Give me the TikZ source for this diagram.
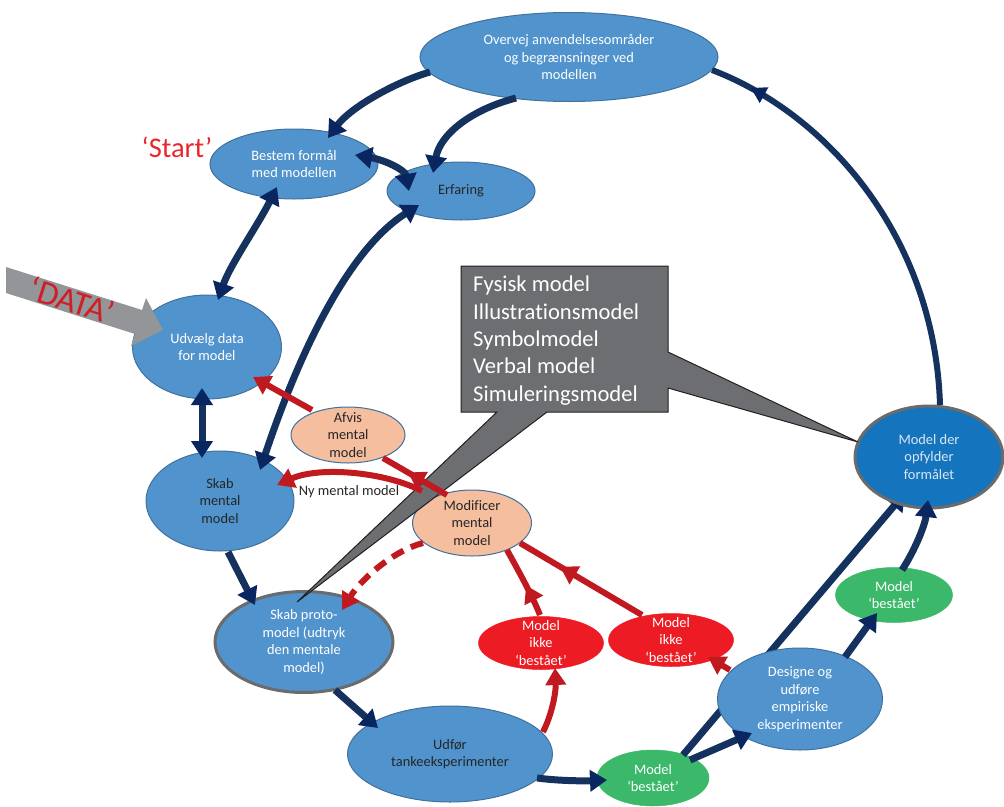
\documentclass[tikz,border=0pt]{standalone}
\usepackage{fontspec}
\setmainfont{Carlito}[Ligatures=NoCommon]
\usetikzlibrary{shapes.geometric,arrows.meta,calc,decorations.markings}
\definecolor{nodeblue}{HTML}{5093CD}
\definecolor{bordblue}{HTML}{41719C}
\definecolor{mdblue}{HTML}{1474BD}
\definecolor{grayb}{HTML}{6B6B6B}
\definecolor{orangef}{HTML}{F4BE9F}
\definecolor{redf}{HTML}{ED1C24}
\definecolor{greenf}{HTML}{3BB86A}
\definecolor{navy}{HTML}{15325F}
\definecolor{navyhead}{HTML}{0A2660}
\definecolor{redl}{HTML}{C0191F}
\definecolor{calloutgray}{HTML}{6D6E71}
\definecolor{calloutborder}{HTML}{231F20}
\definecolor{dgray}{HTML}{939598}
\definecolor{startred}{HTML}{E8262C}
\definecolor{datared}{HTML}{CF1F25}
\definecolor{textdark}{HTML}{262626}
\definecolor{mdtext}{HTML}{DCE6F2}
\newcommand\myfnt{\fontsize{14.4}{17.6}\selectfont}
\newcommand\calfnt{\fontsize{22.6}{27.3}\selectfont}
\begin{document}
\begin{tikzpicture}[x=1pt,y=-1pt,
  bl/.style={ellipse, draw=bordblue, line width=1pt, fill=nodeblue, inner sep=0pt},
  orn/.style={ellipse, draw=bordblue, line width=1pt, fill=orangef, inner sep=0pt},
  rdn/.style={ellipse, draw=redf, line width=0.5pt, fill=redf, inner sep=0pt},
  gn/.style={ellipse, draw=greenf, line width=0.5pt, fill=greenf, inner sep=0pt},
  wt/.style={text=white, font=\myfnt, align=center, inner sep=0pt},
  dt/.style={text=textdark, font=\myfnt, align=center, inner sep=0pt},
  nvl/.style={draw=navy, line width=7pt},
  nv/.style={nvl, -{Triangle[length=17pt,width=21pt,color=navyhead]}},
  nvb/.style={nvl, {Triangle[length=17pt,width=21pt,color=navyhead]}-{Triangle[length=17pt,width=21pt,color=navyhead]}},
  rdl/.style={draw=redl, line width=6pt},
  rda/.style={rdl, -{Triangle[length=17pt,width=20pt,color=redl]}},
  midnv/.style={postaction={decorate}, decoration={markings, mark=at position #1 with {\arrow{Triangle[length=15pt,width=17pt,color=navyhead]}}}},
  midrd/.style={postaction={decorate}, decoration={markings, mark=at position #1 with {\arrow{Triangle[length=17pt,width=20pt,color=redl]}}}}
]
\useasboundingbox (0,0) rectangle (1004,806);

% nodes
\node[bl, minimum width=298, minimum height=89] (ov) at (569,57) {};
\node[wt] (ovt) at (ov) {Overvej anvendelsesområder\\og begrænsninger ved\\modellen};
\node[bl, minimum width=168, minimum height=70] (be) at (294,164) {};
\node[wt] (bet) at (be) {Bestem formål\\med modellen};
\node[bl, minimum width=148, minimum height=58] (er) at (461,191) {};
\node[dt] (ert) at (er) {Erfaring};
\node[bl, minimum width=149, minimum height=104] (ud) at (207,347) {};
\node[wt] (udt) at (ud) {Udvælg data\\for model};
\node[orn, minimum width=114, minimum height=56] (af) at (348,435) {};
\node[dt] (aft) at (af) {Afvis\\mental\\model};
\node[bl, minimum width=148, minimum height=100] (sm) at (220,501) {};
\node[dt] (smt) at (sm) {Skab\\mental\\model};
\node[orn, minimum width=119, minimum height=66] (mo) at (472,523) {};
\node[dt] (mot) at (mo) {Modificer\\mental\\model};
\node[bl, draw=grayb, line width=3pt, minimum width=178, minimum height=101] (sp) at (304,642) {};
\node[wt] (spt) at (sp) {Skab proto-\\model (udtryk\\den mentale\\model)};
\node[rdn, minimum width=125, minimum height=53] (r1) at (541,643) {};
\node[wt] (r1t) at (r1) {Model\\ikke\\‘bestået’};
\node[rdn, minimum width=125, minimum height=53] (r2) at (671,640) {};
\node[wt] (r2t) at (r2) {Model\\ikke\\‘bestået’};
\node[bl, minimum width=205, minimum height=96] (uf) at (450,754) {};
\node[dt] (uft) at (uf) {Udfør\\tankeeksperimenter};
\node[gn, minimum width=112, minimum height=56] (gb) at (653,778) {};
\node[wt] (gbt) at (gb) {Model\\‘bestået’};
\node[gn, minimum width=117, minimum height=55] (gr) at (894,595) {};
\node[wt] (grt) at (gr) {Model\\‘bestået’};

% gb -> md line lies under "Designe"
\coordinate (mdc) at (929,457);
\draw[nv] ($(gb)+(30,-23)$) -- ($(mdc)+(-24,36)$);

\node[bl, minimum width=165, minimum height=102] (de) at (800,699) {};
\node[wt] (det) at (de) {Designe og\\udføre\\empiriske\\eksperimenter};
\node[bl, fill=mdblue, draw=grayb, line width=3pt, minimum width=148, minimum height=102] (md) at (mdc) {};
\node[wt, text=mdtext] (mdt) at (md) {Model der\\opfylder\\formålet};

% callout
\path[draw=calloutborder, fill=calloutgray, line width=1pt, line join=miter]
  (461,266) -- (668,266) -- (668,352) -- (858,442) -- (668,388) -- (668,412)
  -- (547,412) -- (297,602) -- (497,412) -- (461,412) -- cycle;
\node[anchor=north west, text=white, font=\calfnt, align=left, inner sep=0pt] (cl) at (473,276)
  {Fysisk model\\Illustrationsmodel\\Symbolmodel\\Verbal model\\Simuleringsmodel};

% navy connectors
\draw[nv] ($(ov)+(-139,15)$) .. controls (395,82) and (350,108) .. ($(be)+(34,-26)$);
\draw[nv] ($(ov)+(-53,41)$) .. controls (470,110) and (440,135) .. ($(er)+(-28,-18)$);
\draw[nvb] ($(be)+(61,-9)$) .. controls (385,160) and (405,170) .. ($(er)+(-52,0)$);
\draw[nvb] ($(be)+(-17,23)$) .. controls (258,225) and (230,265) .. ($(ud)+(11,-47)$);
\draw[nvb] ($(ud)+(-5,41)$) -- ($(sm)+(-18,-43)$);
\draw[nvb] ($(sm)+(40,-31)$) .. controls (290,380) and (340,255) .. ($(er)+(-42,14)$);
\draw[nv] ($(sm)+(8,51)$) -- ($(sp)+(-49,-37)$);
\draw[nv] ($(sp)+(31,48)$) -- ($(uf)+(-72,-26)$);
\draw[nv] ($(uf)+(87,24)$) .. controls (560,781) and (585,781) .. ($(gb)+(-46,2)$);
\draw[nv] ($(gb)+(37,-18)$) -- ($(de)+(-48,34)$);
\draw[nv] ($(de)+(45,-42)$) -- ($(gr)+(-17,18)$);
\draw[nv] ($(gr)+(8,-25)$) .. controls (915,550) and (925,525) .. ($(md)+(-1,43)$);
\draw[nvl, line width=6pt, midnv=0.9] ($(md)+(11,-52)$) .. controls (935,240) and (830,115) .. ($(ov)+(143,13)$);

% red connectors
\draw[rda] ($(uf)+(93,-22)$) .. controls (553,712) and (556,690) .. ($(r1)+(14,25)$);
\draw[rdl, midrd=0.45] ($(r1)+(-1,-28)$) .. controls (532,595) and (518,570) .. ($(mo)+(35,27)$);
\draw[rdl, midrd=0.67] ($(r2)+(-29,-25)$) -- ($(mo)+(48,20)$);
\draw[rda] ($(de)+(-70,-29)$) -- ($(r2)+(37,17)$);
\draw[rdl, midrd=0.61] ($(mo)+(-25,-28)$) -- ($(af)+(35,23)$);
\draw[rda] ($(af)+(-36,-25)$) -- ($(ud)+(46,30)$);
\draw[rda] ($(mo)+(-50,-32)$) .. controls (385,472) and (320,466) .. ($(sm)+(57,-16)$);
\draw[rda, dash pattern=on 13pt off 8pt] ($(mo)+(-49,20)$) .. controls (395,550) and (362,578) .. ($(sp)+(38,-32)$);
\node[dt] (ny) at (349,492) {Ny mental model};

% DATA arrow
\fill[dgray] (6,267) -- (142,310) -- (146,298) -- (163,330) -- (131,346) -- (135,334) -- (6,293) -- cycle;
\node[text=datared, font=\fontsize{34}{38}\selectfont, rotate=-17.8, inner sep=0pt] (data) at (72,300) {‘DATA’};
\node[text=startred, font=\fontsize{28.5}{32}\selectfont, anchor=base, inner sep=0pt] (start) at (177,157) {‘Start’};
\end{tikzpicture}
\end{document}
